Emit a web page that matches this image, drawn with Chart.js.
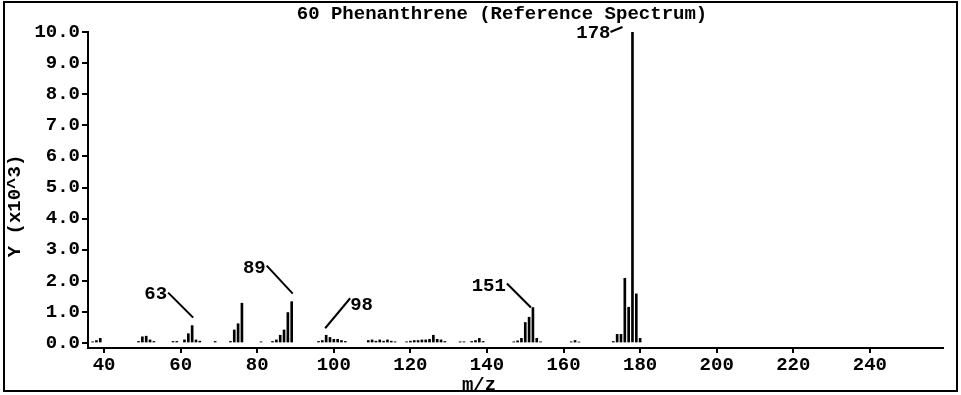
<!DOCTYPE html>
<html lang="en">
<head>
<meta charset="UTF-8">
<title>60 Phenanthrene (Reference Spectrum)</title>
<script src="https://cdn.jsdelivr.net/npm/chart.js"></script>
<style>
  body { margin: 0; background: #fff; }
</style>
</head>
<body>
<canvas id="spectrum" width="961" height="395"></canvas>
<script>
// mass spectrum, intensities in thousands (Y x10^3)
const mz = [37, 38, 39,
  49, 50, 51, 52, 53,
  58, 59, 61, 62, 63, 64, 65,
  69,
  73, 74, 75, 76,
  81, 84, 85, 86, 87, 88, 89,
  96, 97, 98, 99, 100, 101, 102, 103,
  109, 110, 111, 112, 113, 114, 115, 116,
  119, 120, 121, 122, 123, 124, 125, 126, 127, 128, 129,
  133, 134, 136, 137, 138, 139,
  147, 148, 149, 150, 151, 152, 153, 154,
  162, 163, 164,
  173, 174, 175, 176, 177, 178, 179, 180];
const intensity = [0.04, 0.08, 0.15,
  0.05, 0.2, 0.22, 0.1, 0.05,
  0.05, 0.05, 0.1, 0.3, 0.56, 0.1, 0.06,
  0.05,
  0.05, 0.42, 0.62, 1.28,
  0.04, 0.05, 0.1, 0.25, 0.42, 0.98, 1.33,
  0.05, 0.08, 0.25, 0.18, 0.12, 0.12, 0.08, 0.05,
  0.08, 0.1, 0.06, 0.1, 0.06, 0.1, 0.06, 0.04,
  0.04, 0.06, 0.08, 0.08, 0.1, 0.1, 0.12, 0.25, 0.12, 0.1, 0.05,
  0.04, 0.04, 0.05, 0.08, 0.15, 0.05,
  0.04, 0.07, 0.15, 0.66, 0.83, 1.14, 0.15, 0.04,
  0.04, 0.08, 0.03,
  0.05, 0.28, 0.28, 2.08, 1.15, 10.0, 1.58, 0.15];
const xTicks = [40, 60, 80, 100, 120, 140, 160, 180, 200, 220, 240];
const yTicks = [0, 1, 2, 3, 4, 5, 6, 7, 8, 9, 10];
const peakLabels = ['63', '89', '98', '151', '178'];
const peakAnchors = [63, 89, 98, 152, 178];

const FONT = "bold 19px 'Liberation Mono', monospace";

// leader line + text offsets relative to the top of the anchored bar
const labelStyle = [
  { line: [-24, -33, 1, -8], text: [-25, -31], align: 'right' },
  { line: [-25, -36, 1, -8], text: [-26, -33], align: 'right' },
  { line: [24, -37, -1, -7], text: [24, -30], align: 'left' },
  { line: [-26, -24, -2, 0], text: [-27, -21], align: 'right' },
  { line: [-22, 0, -10, -5], text: [-22, 1], align: 'right' }
];

const decor = {
  id: 'decor',
  beforeDraw(chart) {
    const ctx = chart.ctx;
    ctx.save();
    ctx.fillStyle = '#fff';
    ctx.fillRect(0, 0, chart.width, chart.height);
    ctx.strokeStyle = '#000';
    ctx.lineWidth = 2;
    ctx.strokeRect(4, 2, 953, 389);
    ctx.restore();
  },
  afterDraw(chart) {
    const ctx = chart.ctx;
    const xs = chart.scales.x, ys = chart.scales.y;
    ctx.save();
    ctx.fillStyle = '#000';
    ctx.strokeStyle = '#000';
    ctx.font = FONT;
    ctx.textBaseline = 'middle';

    ctx.textAlign = 'center';
    ctx.fillText('60 Phenanthrene (Reference Spectrum)', 502, 14);
    ctx.fillText('m/z', 479, 385);
    ctx.save();
    ctx.translate(15, 206);
    ctx.rotate(-Math.PI / 2);
    ctx.fillText('Y (x10^3)', 0, 0);
    ctx.restore();

    ctx.lineWidth = 2;
    peakLabels.forEach((txt, i) => {
      const m = peakAnchors[i];
      const bx = xs.getPixelForValue(m);
      const by = ys.getPixelForValue(intensity[mz.indexOf(m)]);
      const s = labelStyle[i];
      ctx.beginPath();
      ctx.moveTo(bx + s.line[0], by + s.line[1]);
      ctx.lineTo(bx + s.line[2], by + s.line[3]);
      ctx.stroke();
      ctx.textAlign = s.align;
      ctx.fillText(txt, bx + s.text[0], by + s.text[1]);
    });
    ctx.restore();
  }
};

new Chart(document.getElementById('spectrum'), {
  type: 'bar',
  data: {
    datasets: [{
      data: mz.map((m, i) => ({ x: m, y: intensity[i] })),
      backgroundColor: '#000',
      borderWidth: 0,
      barThickness: 2
    }]
  },
  options: {
    responsive: false,
    animation: false,
    devicePixelRatio: 1,
    layout: { padding: { top: 32, right: 18, bottom: 0, left: 0 } },
    plugins: { legend: { display: false }, tooltip: { enabled: false } },
    scales: {
      x: {
        type: 'linear',
        min: 35.8,
        max: 259.1,
        offset: false,
        afterBuildTicks: axis => { axis.ticks = xTicks.map(v => ({ value: v })); },
        afterFit: axis => { axis.height = 47; },
        grid: { offset: false, drawOnChartArea: false, drawTicks: true, tickLength: 5, color: '#000', lineWidth: 2 },
        border: { display: true, color: '#000', width: 2 },
        ticks: {
          autoSkip: false, maxRotation: 0, padding: 1, color: '#000',
          font: { family: "'Liberation Mono', monospace", size: 19, weight: 'bold' },
          callback: v => String(v)
        }
      },
      y: {
        min: -0.16,
        max: 10,
        afterBuildTicks: axis => { axis.ticks = yTicks.map(v => ({ value: v })); },
        afterFit: axis => { axis.width = 88; },
        grid: { drawOnChartArea: false, drawTicks: true, tickLength: 6, color: '#000', lineWidth: 2 },
        border: { display: true, color: '#000', width: 2 },
        ticks: {
          padding: 2, color: '#000',
          font: { family: "'Liberation Mono', monospace", size: 19, weight: 'bold' },
          callback: v => v.toFixed(1)
        }
      }
    }
  },
  plugins: [decor]
});
</script>
</body>
</html>
